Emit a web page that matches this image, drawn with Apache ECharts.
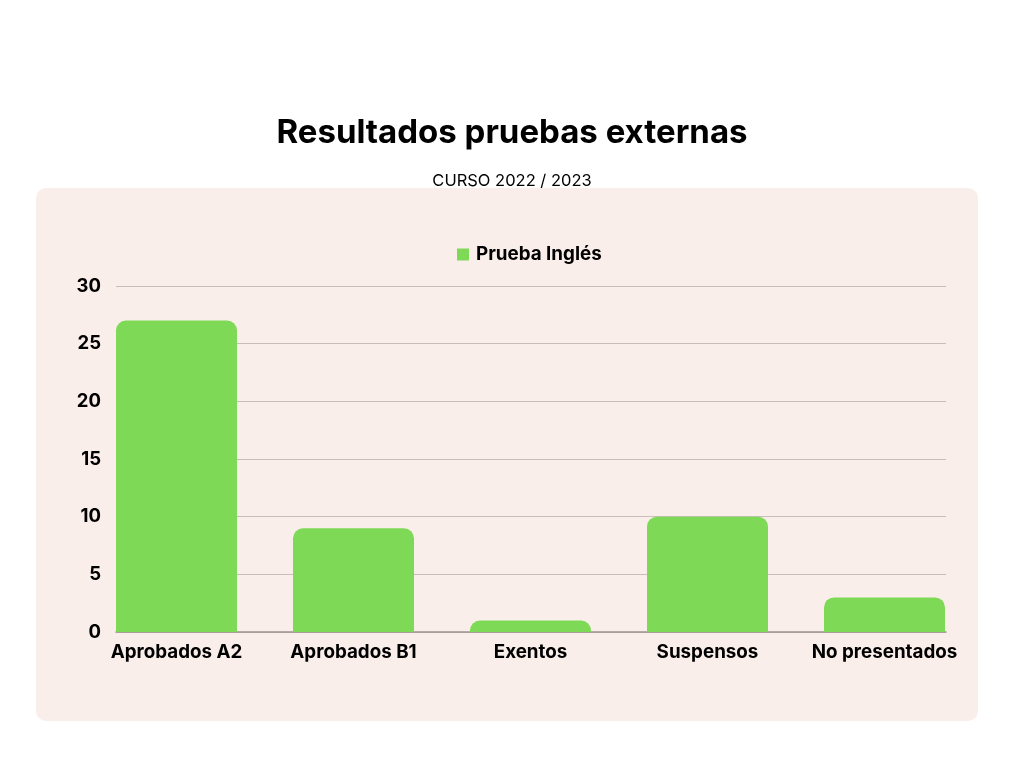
<!DOCTYPE html>
<html>
<head>
<meta charset="utf-8">
<script src="https://cdn.jsdelivr.net/npm/echarts@6/dist/echarts.min.js"></script>
<style>
  html, body { margin: 0; padding: 0; background: #ffffff; }
  #main { width: 1024px; height: 768px; }
</style>
</head>
<body>
<div id="main"></div>
<script>
var categories = ['Aprobados A2', 'Aprobados B1', 'Exentos', 'Suspensos', 'No presentados'];
var ingles = [27, 9, 1, 10, 3];
var yTicks = [0, 5, 10, 15, 20, 25, 30];

var myChart = echarts.init(document.getElementById('main'));
var option = {
    backgroundColor: '#ffffff',
    textStyle: { fontFamily: 'Inter' },
    graphic: [{
        type: 'rect',
        left: 36, top: 188, z: -10,
        shape: { width: 942, height: 533, r: 10 },
        style: { fill: '#f9eee9' }
    }],
    title: [{
        text: 'Resultados pruebas externas',
        left: 'center', top: 112,
        textStyle: { fontSize: 33, fontWeight: 'bold', color: '#000000', fontFamily: 'Inter' }
    }, {
        text: 'CURSO 2022 / 2023',
        left: 'center', top: 168,
        textStyle: { fontSize: 16.5, fontWeight: 'normal', color: '#000000', fontFamily: 'Inter' }
    }],
    legend: {
        data: ['Prueba Inglés'],
        left: 452, top: 240,
        icon: 'rect', itemWidth: 12, itemHeight: 12, itemGap: 10,
        textStyle: { fontSize: 18.8, fontWeight: 'bold', color: '#000000', fontFamily: 'Inter', padding: [0, 0, 0, 2] }
    },
    grid: [
        { left: 116, right: 78, top: 286, bottom: 136 },
        { left: 88, right: 51, top: 286, bottom: 136 }
    ],
    xAxis: [{
        type: 'category', gridIndex: 0, data: categories,
        axisLine: { lineStyle: { color: '#9a9593', width: 1.5 } },
        axisTick: { show: false },
        axisLabel: { show: false }
    }, {
        type: 'category', gridIndex: 1, data: categories,
        axisLine: { show: false },
        axisTick: { show: false },
        axisLabel: {
            interval: 0, hideOverlap: false,
            margin: 11, fontSize: 18.8, fontWeight: 'bold', color: '#000000', fontFamily: 'Inter'
        }
    }],
    yAxis: [{
        type: 'value', gridIndex: 0, min: 0, max: 30, interval: 5,
        axisLine: { show: false },
        axisTick: { show: false },
        axisLabel: {
            margin: 15, fontSize: 18.5, fontWeight: 'bold', color: '#000000', fontFamily: 'Inter',
            formatter: function (v) { return yTicks.indexOf(v) >= 0 ? String(v) : ''; }
        },
        splitLine: { lineStyle: { color: '#c9bdb9', width: 1 } }
    }, {
        type: 'value', gridIndex: 1, min: 0, max: 30, interval: 5,
        show: false, splitLine: { show: false }
    }],
    series: [{
        name: 'Prueba Inglés',
        type: 'bar',
        xAxisIndex: 1, yAxisIndex: 1,
        barWidth: 121,
        data: ingles,
        itemStyle: { color: '#7ed957', borderRadius: [10, 10, 0, 0] }
    }]
};
myChart.setOption(option);
</script>
</body>
</html>
